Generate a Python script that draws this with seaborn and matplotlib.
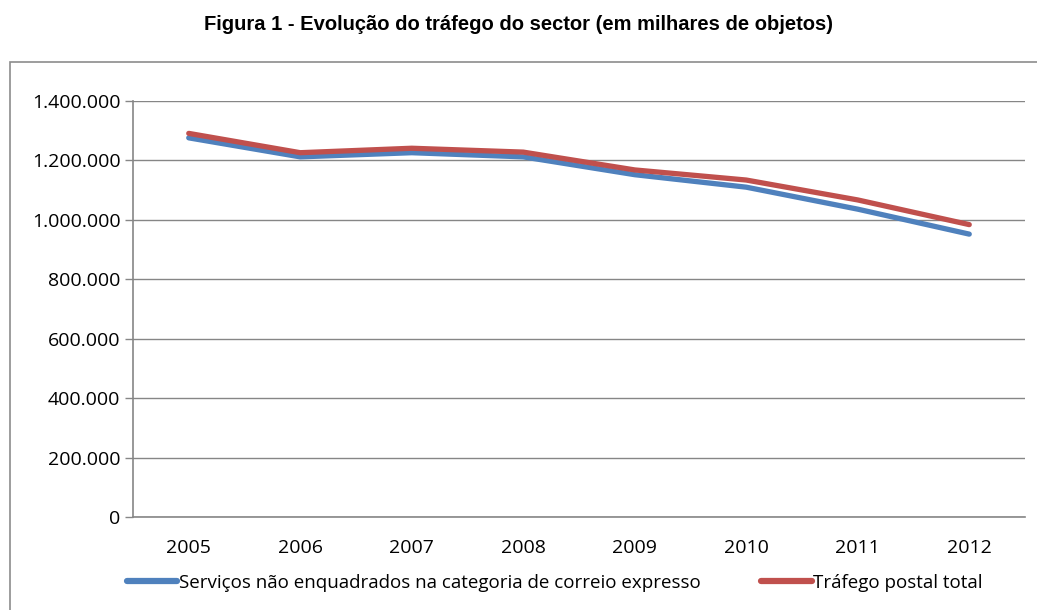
import matplotlib
matplotlib.use("Agg")
import matplotlib.pyplot as plt
import matplotlib.ticker as mticker
from matplotlib.patches import Rectangle
import seaborn as sns
import pandas as pd

years = ["2005", "2006", "2007", "2008", "2009", "2010", "2011", "2012"]
servicos = [1276000, 1212000, 1226000, 1212000, 1152000, 1110000, 1036000, 952000]
total = [1291000, 1226000, 1241000, 1228000, 1168000, 1134000, 1067000, 984000]
series_names = ["Serviços não enquadrados na categoria de correio expresso",
                "Tráfego postal total"]
yticks = [0, 200000, 400000, 600000, 800000, 1000000, 1200000, 1400000]

df = pd.DataFrame({
    "Ano": years * 2,
    "Valor": servicos + total,
    "Serie": [series_names[0]] * len(years) + [series_names[1]] * len(years),
})

sns.set_theme(style="white")
plt.rcParams["font.family"] = ["Open Sans", "DejaVu Sans"]

fig = plt.figure(figsize=(10.37, 6.10), dpi=100)
ax = fig.add_axes([133/1037, 1-517/610, (1025-133)/1037, (517-101)/610])

# outer frame of chart area
fig.patches.append(Rectangle((10/1037, -0.05), 1.1, 1-62/610+0.05,
                             transform=fig.transFigure, fill=False,
                             edgecolor="#8c8c8c", linewidth=1.2, zorder=0))

sns.lineplot(data=df, x="Ano", y="Valor", hue="Serie",
             palette=["#4F81BD", "#C0504D"], linewidth=3.8, ax=ax,
             legend=False, sort=False)

ax.set_xlim(-0.5, 7.5)
ax.set_ylim(0, 1400000)
ax.set_yticks(yticks)
ax.yaxis.set_major_formatter(mticker.FuncFormatter(lambda v, p: f"{int(v):,}".replace(",", ".")))
ax.set_xticks(range(len(years)))
ax.set_xticklabels(years)
ax.xaxis.set_minor_locator(mticker.FixedLocator([i - 0.5 for i in range(len(years) + 1)]))
ax.tick_params(axis="x", which="major", length=0, pad=16, labelsize=14, colors="#000000")
ax.tick_params(axis="x", which="minor", length=6, width=1, color="#868686", direction="out")
ax.tick_params(axis="y", which="major", length=6, width=1, color="#868686",
               direction="out", labelsize=14, pad=3, left=True, labelcolor="#000000")
ax.grid(axis="y", color="#868686", linewidth=1)
ax.grid(axis="x", visible=False)
for s in ["top", "right"]:
    ax.spines[s].set_visible(False)
for s in ["left", "bottom"]:
    ax.spines[s].set_color("#868686")
    ax.spines[s].set_linewidth(1.2)
ax.set_xlabel("")
ax.set_ylabel("")
ax.set_axisbelow(True)

handles = [plt.Line2D([], [], color="#4F81BD", linewidth=4.5, solid_capstyle="round"),
           plt.Line2D([], [], color="#C0504D", linewidth=4.5, solid_capstyle="round")]
fig.legend(handles, series_names, loc="center", bbox_to_anchor=(0.535, 1-583/610),
           ncol=2, frameon=False, fontsize=13.5, handlelength=2.7, handletextpad=0.1,
           columnspacing=3.2, labelcolor="#000000")

fig.suptitle("Figura 1 - Evolução do tráfego do sector (em milhares de objetos)",
             x=0.5, y=1-25/610, va="center", fontsize=14.5, fontweight="bold",
             color="#000000", family=["Liberation Sans", "DejaVu Sans"])

fig.savefig("out.png", dpi=100, facecolor="white")
